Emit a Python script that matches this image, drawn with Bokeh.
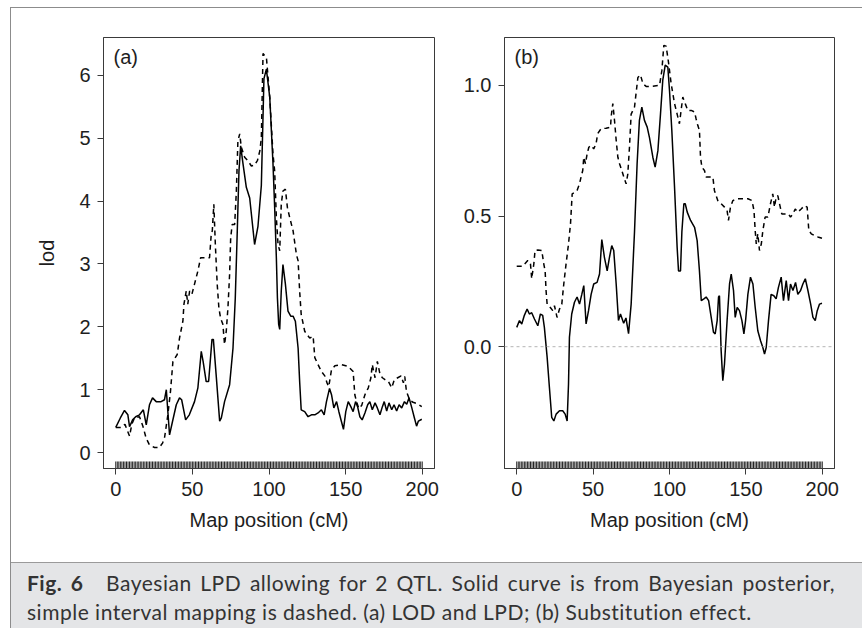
from bokeh.plotting import figure
from bokeh.layouts import row, column
from bokeh.models import Div, Span, Label, FixedTicker, PrintfTickFormatter, Range1d
from bokeh.embed import file_html
from bokeh.resources import INLINE

# ---------------- data ----------------
# Panel (a): LOD / LPD
a_bayes_pos = [0, 3, 5.7, 7.9, 9, 11, 13, 15.5, 18, 19.9, 22, 24, 26.4, 29.6, 31.8, 33, 34, 35.1, 37,
               39.5, 41.6, 43, 45.6, 48, 51.4, 53.6, 55.8, 57, 59, 60.6, 62.8, 63.7, 65.5, 67.8, 68.9,
               71, 74.3, 76.5, 78, 79.3, 80.4, 81.5, 83, 85.2, 87.4, 90.6, 92.8, 95, 96.7, 98.3, 100.5,
               102.6, 103.7, 104.8, 105.5, 106.3, 107, 108, 109.1, 110.7, 112.4, 114.2, 115.7, 117.2,
               119, 120, 121, 123.3, 125.5, 127.7, 129.9, 132, 134.2, 136, 137.5, 139.5, 140.8, 142.3,
               144.1, 145.6, 147.3, 148.6, 150.1, 151.7, 153.4, 154.9, 156.5, 157.8, 159.3, 160.8,
               162.6, 164.4, 165.8, 167.4, 169.2, 170.7, 172.4, 174, 175.2, 176.8, 178.3, 180.1, 181.6,
               183.3, 184.9, 186.6, 188.4, 189.9, 191.4, 193.2, 194.9, 196.3, 197.5, 199.7]
a_bayes_lod = [0.40, 0.55, 0.67, 0.60, 0.41, 0.52, 0.57, 0.60, 0.68, 0.44, 0.76, 0.87, 0.81, 0.81, 0.84,
               1.00, 0.65, 0.28, 0.49, 0.76, 0.87, 0.84, 0.52, 0.60, 0.81, 1.03, 1.61, 1.45, 1.13, 1.13,
               1.80, 1.80, 1.24, 0.50, 0.55, 0.81, 1.08, 1.66, 2.46, 3.53, 4.48, 4.88, 4.60, 4.22, 4.05,
               3.31, 3.60, 4.25, 5.95, 6.10, 5.65, 4.60, 3.90, 3.10, 2.46, 2.04, 1.96, 2.57, 2.99, 2.68,
               2.25, 2.17, 2.17, 2.09, 1.66, 1.13, 0.68, 0.65, 0.57, 0.60, 0.60, 0.63, 0.68, 0.60, 0.81,
               1.02, 0.92, 0.71, 0.81, 0.65, 0.49, 0.37, 0.65, 0.81, 0.73, 0.65, 0.81, 0.73, 0.57, 0.52,
               0.63, 0.76, 0.81, 0.68, 0.79, 0.71, 0.60, 0.73, 0.81, 0.66, 0.79, 0.68, 0.76, 0.66, 0.76,
               0.71, 0.81, 0.77, 0.87, 0.71, 0.55, 0.42, 0.50, 0.53]

a_sim_pos = [0, 3.5, 6, 9, 10.5, 12.2, 15.5, 17.7, 19.8, 22, 25.3, 28.5, 30.5, 31.8, 34, 35.7, 37.3,
             40.1, 41.6, 43.8, 44.5, 46, 47, 48.2, 49.7, 51.4, 53.6, 55.4, 58, 61.2, 62.3, 63, 64, 65,
             66.2, 67.3, 68.4, 69.9, 71, 72.1, 73.2, 74.3, 75, 76, 77.6, 78.7, 79.7, 80.9, 81.9, 84.1,
             86.3, 88.5, 90.5, 92.5, 94, 95, 96.1, 97.6, 98.3, 100.5, 102.6, 103.7, 104.8, 105.9, 107,
             108, 109.1, 110.7, 112, 113.5, 115.7, 117.9, 119, 120, 121, 123.3, 126.6, 128.8, 129.9,
             132, 134.2, 136.4, 138, 139, 140.8, 143, 147.3, 151.7, 154.9, 156, 157.1, 158.6, 160.5,
             162.6, 164.8, 166.5, 167.4, 169.2, 170.7, 172.4, 174, 175.7, 177.9, 180.1, 181.8, 184,
             186.2, 187.7, 188.6, 189.7, 191.9, 194, 196.4, 199.7]
a_sim_lod = [0.40, 0.40, 0.45, 0.26, 0.45, 0.55, 0.57, 0.42, 0.23, 0.12, 0.08, 0.08, 0.15, 0.23, 0.60,
             0.97, 1.45, 1.56, 1.82, 2.09, 2.36, 2.57, 2.36, 2.57, 2.52, 2.68, 2.89, 3.10, 3.10, 3.10,
             3.47, 3.53, 3.95, 3.30, 2.68, 2.30, 2.14, 2.04, 1.72, 1.93, 2.30, 2.84, 3.42, 3.63, 3.63,
             4.16, 4.96, 5.07, 4.86, 4.70, 4.64, 4.56, 4.57, 4.65, 4.80, 5.00, 6.35, 6.30, 6.29, 5.65,
             4.75, 4.48, 3.74, 3.31, 3.21, 3.95, 4.16, 4.19, 3.90, 3.74, 3.53, 3.15, 3.05, 2.57, 2.20,
             1.93, 1.82, 1.85, 1.51, 1.40, 1.29, 1.22, 1.10, 1.05, 1.32, 1.38, 1.40, 1.37, 1.29, 0.92,
             0.81, 0.70, 0.75, 0.92, 1.03, 1.19, 1.40, 1.19, 1.45, 1.25, 1.19, 1.16, 1.13, 1.03, 1.16,
             1.19, 1.22, 1.11, 1.21, 0.97, 0.83, 0.80, 0.78, 0.73]

# Panel (b): substitution effect
b_bayes_pos = [0, 1.8, 3.3, 5, 6.8, 8.3, 9.8, 11.6, 13.8, 15.5, 17, 18.1, 19.9, 21.4, 22.9, 24.3, 25.8,
               28, 30.1, 31.7, 33, 33.9, 34.5, 36, 37.8, 39.5, 41.1, 42.6, 43.9, 45.4, 47, 48.7, 50.4,
               52.6, 54.2, 55.7, 57.4, 59.2, 60.7, 62.2, 63.5, 65.1, 66.6, 67.9, 70, 71.5, 73.2, 74.9,
               77.1, 78.8, 80.3, 81.9, 83.6, 85.4, 86.9, 89.1, 90.6, 92.4, 94.1, 95.6, 97.2, 98.9, 100,
               101.5, 103.3, 105, 105.9, 107.2, 108.1, 109.4, 110.3, 111.6, 113.8, 116.4, 118.1, 119.6,
               120.8, 122.5, 124, 125.6, 127.3, 128.8, 129.9, 131.2, 132.1, 132.7, 133.8, 134.9, 136,
               137.7, 139.3, 140.4, 141.9, 143, 144.3, 145.8, 147.4, 148.7, 149.8, 151.3, 153, 154.6,
               156.1, 157.8, 159.6, 161.1, 162.2, 163.3, 164.8, 166.5, 168.3, 169.8, 171.3, 173.1,
               174.6, 176.4, 177.9, 179.2, 180.8, 182.5, 184, 185.8, 187.3, 188.9, 190.6, 192.4, 193.9,
               195.4, 196.7, 198.2, 199.8]
b_bayes_eff = [0.074, 0.10, 0.087, 0.12, 0.144, 0.125, 0.13, 0.106, 0.08, 0.125, 0.12, 0.074, -0.04,
               -0.156, -0.27, -0.284, -0.258, -0.245, -0.245, -0.258, -0.284, -0.143, 0.036, 0.125,
               0.17, 0.19, 0.163, 0.20, 0.234, 0.087, 0.138, 0.20, 0.24, 0.246, 0.278, 0.41, 0.342,
               0.29, 0.342, 0.387, 0.368, 0.24, 0.10, 0.125, 0.09, 0.11, 0.05, 0.163, 0.44, 0.70,
               0.866, 0.917, 0.866, 0.84, 0.80, 0.725, 0.687, 0.75, 0.89, 1.02, 1.077, 1.07, 0.98,
               0.83, 0.61, 0.38, 0.29, 0.29, 0.44, 0.547, 0.547, 0.515, 0.483, 0.457, 0.406, 0.29,
               0.176, 0.183, 0.19, 0.176, 0.112, 0.055, 0.049, 0.10, 0.19, 0.195, -0.015, -0.13,
               -0.066, 0.10, 0.24, 0.278, 0.215, 0.112, 0.15, 0.138, 0.10, 0.049, 0.10, 0.20, 0.266,
               0.24, 0.15, 0.061, 0.023, -0.003, -0.028, -0.003, 0.10, 0.20, 0.195, 0.183, 0.227,
               0.266, 0.176, 0.253, 0.176, 0.24, 0.215, 0.246, 0.20, 0.215, 0.24, 0.26, 0.215, 0.163,
               0.112, 0.10, 0.138, 0.163, 0.166]

b_sim_pos = [0, 4, 7.2, 9, 9.8, 11.2, 12, 13.8, 16.4, 17.7, 18.6, 19.2, 19.9, 22, 23.6, 24.7, 26.4, 28,
             29.5, 30.8, 32.3, 33.9, 35.2, 36.3, 37.8, 39.5, 41.1, 42.1, 43.2, 43.9, 45, 46.1, 47.2,
             48.7, 50.4, 51.9, 53, 55.2, 58.5, 61.4, 61.8, 62.9, 64, 65.1, 66.2, 67.3, 68.8, 70.1,
             71.6, 72.7, 73.8, 74.9, 77.1, 79.3, 81, 82.6, 84.7, 88, 93.5, 95, 96.3, 97.8, 99.3,
             101.1, 103.3, 105, 106.5, 107.6, 108.7, 110.3, 112, 114.2, 116.4, 117.4, 118.5, 119.6,
             120.3, 121.2, 122.9, 124, 126.2, 128.4, 129.4, 131.6, 133.8, 136, 137.7, 138.6, 139.9,
             141.5, 143.7, 147, 151.3, 154, 155.3, 156.1, 156.8, 157.8, 158.9, 160.1, 161.1, 162.6,
             164.4, 166.1, 167.6, 168.7, 169.8, 170.9, 172, 173.5, 175.7, 177.9, 179.2, 180.8, 182.3,
             184, 186.2, 188.4, 190.1, 191.2, 192.8, 194.9, 197.1, 199.8]
b_sim_eff = [0.308, 0.308, 0.33, 0.317, 0.26, 0.317, 0.368, 0.37, 0.368, 0.317, 0.29, 0.215, 0.163,
             0.15, 0.138, 0.157, 0.112, 0.144, 0.163, 0.24, 0.317, 0.393, 0.47, 0.585, 0.59, 0.598,
             0.623, 0.649, 0.674, 0.725, 0.70, 0.738, 0.763, 0.77, 0.757, 0.776, 0.815, 0.834, 0.836,
             0.84, 0.88, 0.93, 0.866, 0.79, 0.725, 0.70, 0.674, 0.649, 0.623, 0.66, 0.763, 0.89,
             0.917, 1.03, 1.04, 1.006, 0.996, 0.996, 1.0, 1.057, 1.153, 1.150, 1.090, 1.006, 0.93,
             0.89, 0.853, 0.904, 0.955, 0.93, 0.904, 0.904, 0.898, 0.872, 0.847, 0.828, 0.725, 0.687,
             0.674, 0.649, 0.649, 0.649, 0.598, 0.559, 0.547, 0.534, 0.521, 0.483, 0.534, 0.559,
             0.566, 0.566, 0.566, 0.559, 0.521, 0.444, 0.393, 0.432, 0.368, 0.393, 0.444, 0.496,
             0.496, 0.547, 0.585, 0.534, 0.572, 0.578, 0.547, 0.508, 0.508, 0.508, 0.496, 0.508,
             0.527, 0.515, 0.527, 0.54, 0.534, 0.444, 0.432, 0.425, 0.42, 0.415]

# marker positions shown as the rug (dense, roughly every cM)
marker_pos = list(range(0, 201))

x_ticks = [0, 50, 100, 150, 200]
a_y_ticks = [0, 1, 2, 3, 4, 5, 6]
b_y_ticks = [0.0, 0.5, 1.0]

FONT = "Liberation Sans"
FRAME = "#3a3a3a"
TXT = "#1e1e1e"


def make_panel(width, left, right, y_lo, y_hi, y_ticks, y_fmt, ylabel, tag):
    p = figure(width=width, height=554, x_range=Range1d(-8, 208), y_range=Range1d(y_lo, y_hi),
               output_backend="svg", toolbar_location=None,
               min_border_left=left, min_border_right=right, min_border_top=29, min_border_bottom=94)
    p.xgrid.visible = False
    p.ygrid.visible = False
    p.outline_line_color = FRAME
    p.outline_line_width = 1
    p.background_fill_color = "white"
    p.border_fill_color = "white"
    for ax in (p.xaxis[0], p.yaxis[0]):
        ax.axis_line_color = FRAME
        ax.major_tick_line_color = FRAME
        ax.major_tick_in = 0
        ax.major_tick_out = 6
        ax.minor_tick_line_color = None
        ax.major_label_text_font = FONT
        ax.major_label_text_font_size = "20px"
        ax.major_label_text_color = TXT
        ax.axis_label_text_font = FONT
        ax.axis_label_text_font_size = "20px"
        ax.axis_label_text_font_style = "normal"
        ax.axis_label_text_color = TXT
        ax.major_label_standoff = 7
    p.xaxis.ticker = FixedTicker(ticks=x_ticks)
    p.xaxis.axis_label = "Map position (cM)"
    p.xaxis.axis_label_standoff = 10
    p.yaxis.ticker = FixedTicker(ticks=y_ticks)
    if y_fmt:
        p.yaxis.formatter = PrintfTickFormatter(format=y_fmt)
    if ylabel:
        p.yaxis.axis_label = ylabel
        p.yaxis.axis_label_standoff = 18
    p.add_layout(Label(x=-8, y=y_hi, x_offset=10, y_offset=-8, text=tag, text_align="left",
                       text_baseline="top", text_font=FONT, text_font_size="20px",
                       text_color=TXT))
    rug_len = (y_hi - y_lo) * 7.0 / 430.0
    p.segment(x0=marker_pos, x1=marker_pos, y0=[y_lo] * len(marker_pos),
              y1=[y_lo + rug_len] * len(marker_pos), line_color="#222222", line_width=1)
    return p


fa = make_panel(434, 92, 11, -0.254, 6.604, a_y_ticks, None, "lod", "(a)")
fa.line(a_sim_pos, a_sim_lod, line_color="black", line_width=1.5, line_dash="5 4")
fa.line(a_bayes_pos, a_bayes_lod, line_color="black", line_width=1.5)

fb = make_panel(417, 59, 28, -0.466, 1.183, b_y_ticks, "%.1f", None, "(b)")
fb.add_layout(Span(location=0, dimension="width", line_color="#b4b4b4", line_width=1,
                   line_dash="3 3"))
fb.line(b_sim_pos, b_sim_eff, line_color="black", line_width=1.5, line_dash="5 4")
fb.line(b_bayes_pos, b_bayes_eff, line_color="black", line_width=1.5)

caption_html = (
    '<div style="width:851px;height:66px;box-sizing:border-box;background:#e4e5e7;'
    'border-top:1px solid #9a9a9a;padding:5px 27px 0 16px;font-family:Lato;font-size:21px;'
    'letter-spacing:0.5px;line-height:29px;color:#333333;">'
    '<div style="text-align:justify;text-align-last:justify;">'
    '<b style="margin-right:14px;">Fig. 6</b> Bayesian LPD allowing for 2 QTL. Solid curve is from '
    'Bayesian posterior,</div>'
    '<div>simple interval mapping is dashed. (a) LOD and LPD; (b) Substitution effect.</div>'
    '</div>'
)
cap = Div(text=caption_html, width=851, height=66, margin=0)

root = column(row(fa, fb), cap, margin=(7, 0, 0, 10),
              styles={"border-top": "1px solid #8c8c8c", "border-left": "1px solid #8c8c8c"})

open("out.html", "w").write(file_html(root, INLINE))
